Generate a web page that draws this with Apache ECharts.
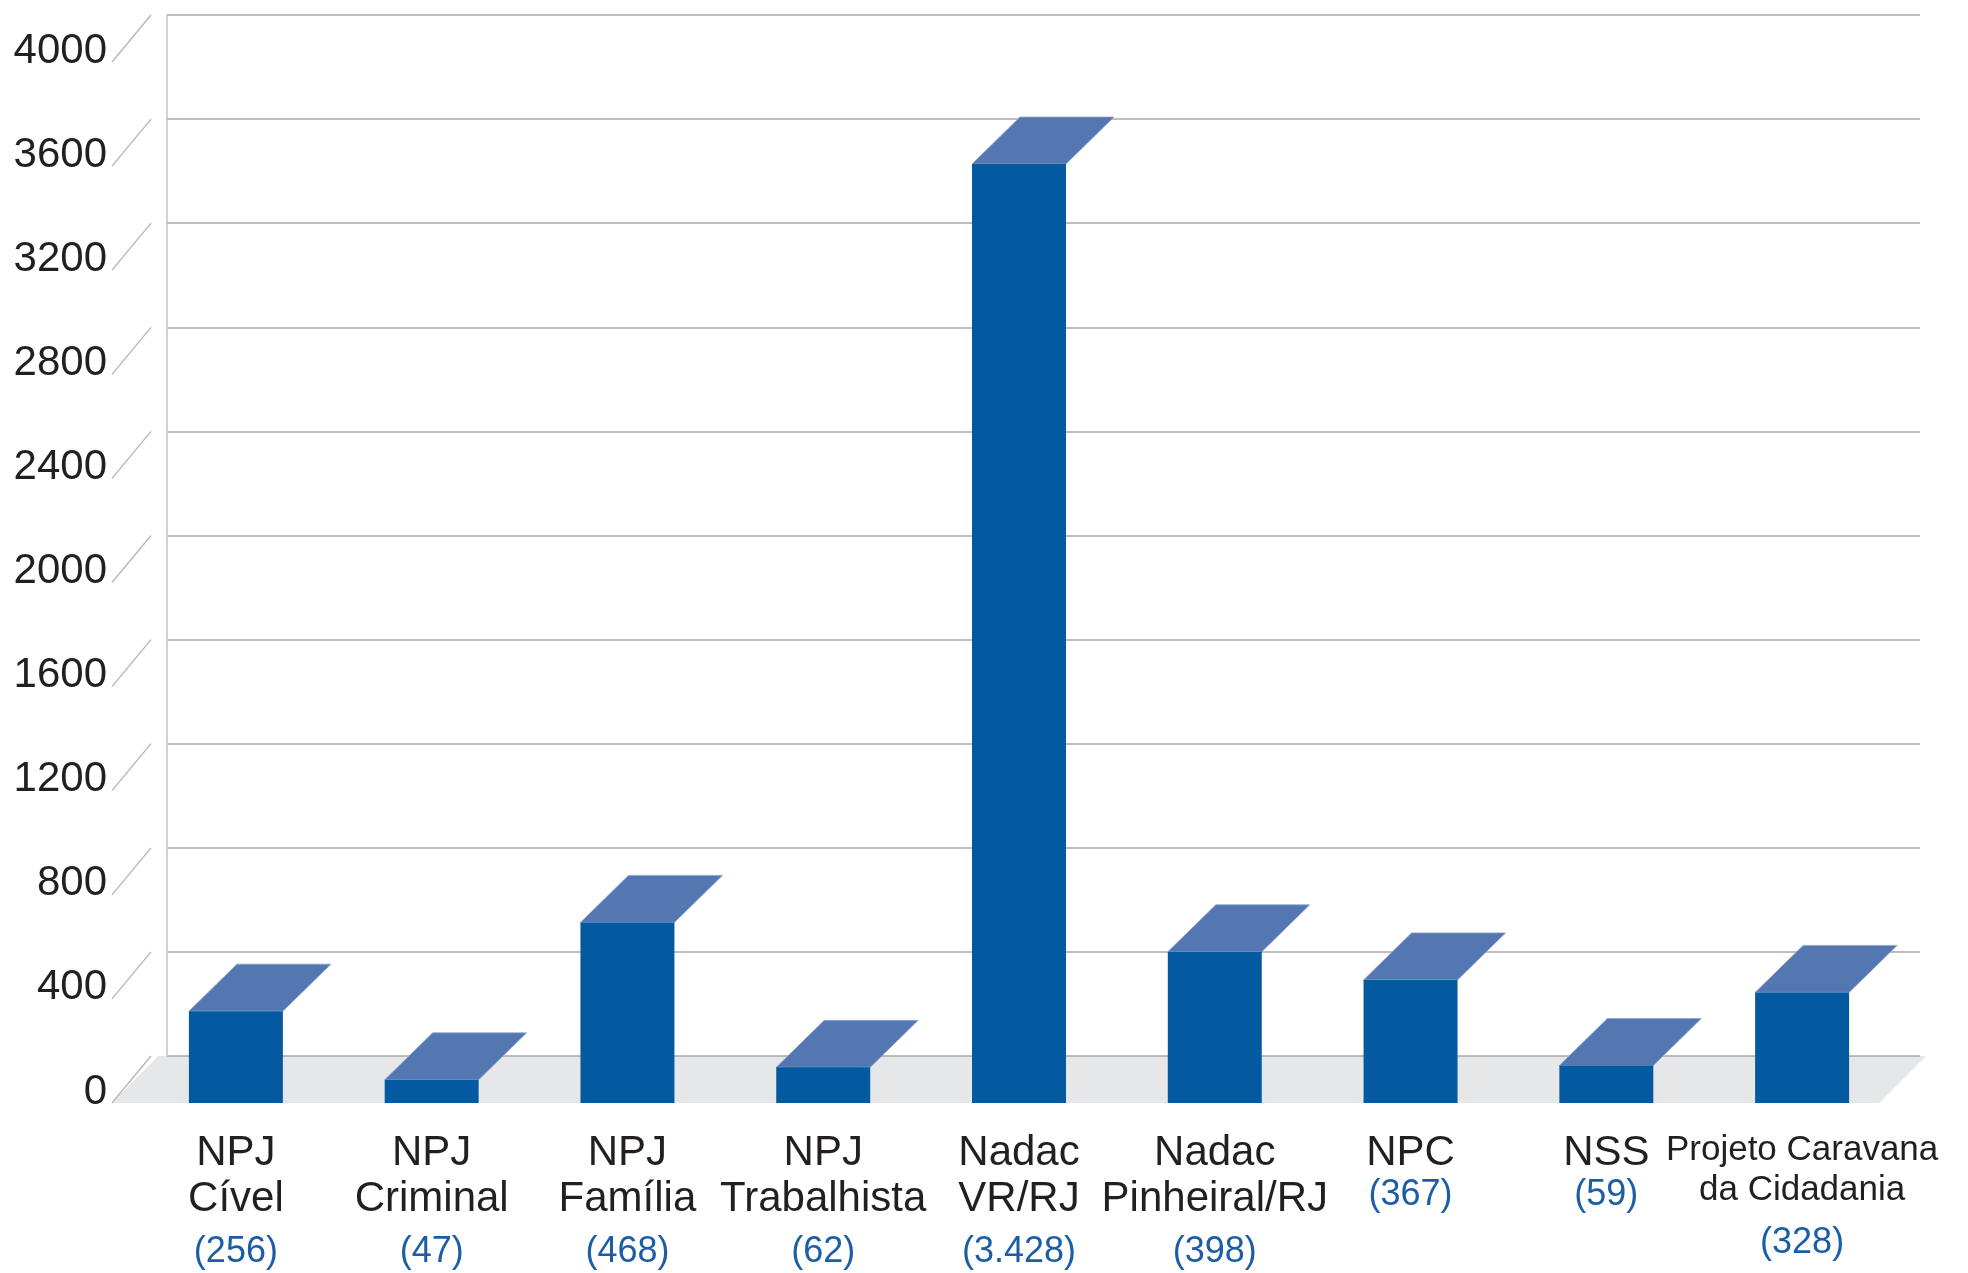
<!DOCTYPE html>
<html>
<head>
<meta charset="utf-8">
<script src="https://cdn.jsdelivr.net/npm/echarts@6/dist/echarts.min.js"></script>
<style>
html,body{margin:0;padding:0;background:#fff;}
#chart{width:1968px;height:1273px;}
</style>
</head>
<body>
<div id="chart"></div>
<script>
// ---- data ----
const categories = ['NPJ\nCível', 'NPJ\nCriminal', 'NPJ\nFamília', 'NPJ\nTrabalhista', 'Nadac\nVR/RJ', 'Nadac\nPinheiral/RJ', 'NPC', 'NSS', 'Projeto Caravana\nda Cidadania'];
const counts = [256, 47, 468, 62, 3428, 398, 367, 59, 328];
// bar heights as drawn in the picture
const barHeights = [353, 89, 694, 137, 3608, 581, 473, 144, 425];
const yTicks = [0, 400, 800, 1200, 1600, 2000, 2400, 2800, 3200, 3600, 4000];

// ---- layout ----
const FONT = "'Liberation Sans', Arial, Helvetica, sans-serif";
const DX = 48, DY = 47;          // depth offset
const FRONT = {left: 138, right: 68, top: 62, bottom: 170};
const BACK = {left: 167, right: 48, top: 15, bottom: 217};

function fmtCount(n) {
  return '(' + String(n).replace(/\B(?=(\d{3})+(?!\d))/g, '.') + ')';
}

const chart = echarts.init(document.getElementById('chart'), null, {renderer: 'canvas'});

const option = {
  backgroundColor: '#ffffff',
  animation: false,
  textStyle: {fontFamily: FONT},
  grid: [
    {left: FRONT.left, right: FRONT.right, top: FRONT.top, bottom: FRONT.bottom, containLabel: false},
    {left: BACK.left, right: BACK.right, top: BACK.top, bottom: BACK.bottom, containLabel: false}
  ],
  xAxis: [
    {
      type: 'category', gridIndex: 0, data: categories,
      axisLine: {show: false}, axisTick: {show: false}, splitLine: {show: false},
      axisLabel: {
        interval: 0, hideOverlap: false, margin: 27,
        formatter: function (value, idx) {
          const lines = value.split('\n');
          const small = lines.some(l => l.length > 14);
          const ns = small ? 'p' : 'n';
          const vs = lines.length === 1 ? 'v2' : (small ? 'v3' : 'v');
          return lines.map(l => '{' + ns + '|' + l + '}').join('\n') + '\n{' + vs + '|' + fmtCount(counts[idx]) + '}';
        },
        rich: {
          n: {fontSize: 42, lineHeight: 46, color: '#231F20', fontFamily: FONT},
          p: {fontSize: 35, lineHeight: 40, color: '#231F20', fontFamily: FONT},
          v: {fontSize: 36, lineHeight: 61, color: '#1B5EA6', fontFamily: FONT},
          v2: {fontSize: 36, lineHeight: 39, color: '#1B5EA6', fontFamily: FONT},
          v3: {fontSize: 36, lineHeight: 67, color: '#1B5EA6', fontFamily: FONT}
        }
      }
    },
    {type: 'value', gridIndex: 1, min: 0, max: 1, show: false}
  ],
  yAxis: [
    {
      type: 'value', gridIndex: 0, min: 0, max: 4000, interval: 400,
      axisLine: {show: false}, axisTick: {show: false}, splitLine: {show: false},
      axisLabel: {
        margin: 31, fontSize: 42, color: '#231F20', fontFamily: FONT,
        verticalAlign: 'bottom', lineHeight: 22,
        formatter: function (v) { return String(v); }
      }
    },
    {
      type: 'value', gridIndex: 1, min: 0, max: 4000, interval: 400,
      offset: 16,
      axisLine: {show: true, lineStyle: {color: '#C3C3C3', width: 1.5}},
      axisTick: {show: false}, axisLabel: {show: false},
      splitLine: {show: true, lineStyle: {color: '#A9A9AB', width: 1.5}}
    }
  ],
  graphic: [
    {
      type: 'polygon', z: -10, silent: true,
      shape: {points: [[112, 1103], [1879, 1103], [1926, 1056], [158, 1056]]},
      style: {fill: '#E6E7E8'}
    }
  ],
  series: [
    {
      // diagonal ticks linking the wall grid to the labels
      type: 'custom', xAxisIndex: 1, yAxisIndex: 1, z: 1, silent: true,
      data: yTicks.map(v => [0, v]),
      renderItem: function (params, api) {
        const p = api.coord([0, api.value(1)]);
        return {
          type: 'line',
          shape: {x1: p[0] - 16, y1: p[1], x2: p[0] - 55, y2: p[1] + DY},
          style: {stroke: '#B5B5B5', lineWidth: 1.3}
        };
      }
    },
    {
      type: 'custom', xAxisIndex: 0, yAxisIndex: 0, z: 5, silent: true,
      data: barHeights.map((v, i) => [i, v]),
      renderItem: function (params, api) {
        const i = api.value(0);
        const top = api.coord([i, api.value(1)]);
        const base = api.coord([i, 0]);
        const w = api.size([1, 0])[0] * 0.48;
        const x0 = top[0] - w / 2, x1 = top[0] + w / 2;
        return {
          type: 'group',
          children: [
            {
              type: 'polygon',
              shape: {points: [[x0, top[1]], [x1, top[1]], [x1 + DX, top[1] - DY], [x0 + DX, top[1] - DY]]},
              style: {fill: '#5377B0', stroke: '#8FA6CE', lineWidth: 0.8}
            },
            {
              type: 'rect',
              shape: {x: x0, y: top[1], width: w, height: base[1] - top[1]},
              style: {fill: '#035AA1'}
            }
          ]
        };
      }
    }
  ]
};

chart.setOption(option);
</script>
</body>
</html>
